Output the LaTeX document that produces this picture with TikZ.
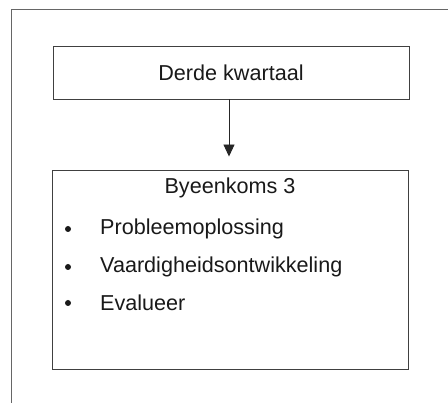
\documentclass[tikz,border=0pt]{standalone}
\usepackage{fontspec}
\setmainfont{Liberation Sans}
\usetikzlibrary{arrows.meta}
\begin{document}
\begin{tikzpicture}[x=1pt,y=-1pt,
  framestyle/.style={draw=black!60,line width=0.8pt},
  boxstyle/.style={draw=black!75,line width=0.9pt,rectangle,inner sep=0pt},
  labelstyle/.style={font=\fontsize{21.6}{26}\selectfont,inner sep=0pt,text=black!90},
  dotstyle/.style={circle,fill=black!90,inner sep=0pt,minimum size=6pt},
  flow/.style={draw=black!85,line width=0.9pt,-{Triangle[length=12pt,width=11pt]}}]
  \useasboundingbox (0,0) rectangle (448,403);
  % open frame: top and left edges only
  \coordinate (fr) at (448,9);
  \coordinate (fc) at (11,9);
  \coordinate (fb) at (11,403);
  \draw[framestyle] (fr) -- (fc) -- (fb);
  % quarter box
  \node[boxstyle,minimum width=356pt,minimum height=53pt] (top) at (231,72.5) {};
  \node[labelstyle] (toplabel) at (top.center) {Derde kwartaal};
  % session box
  \node[boxstyle,minimum width=356pt,minimum height=199pt] (bot) at (230,269.5) {};
  \node[labelstyle] (bottitle) at (230,188) {Byeenkoms 3};
  \node[labelstyle,anchor=west] (i1) at (100,229) {Probleemoplossing};
  \node[labelstyle,anchor=west] (i2) at (100,267) {Vaardigheidsontwikkeling};
  \node[labelstyle,anchor=west] (i3) at (100,303) {Evalueer};
  \node[dotstyle] (d1) at (68,229) {};
  \node[dotstyle] (d2) at (68,267) {};
  \node[dotstyle] (d3) at (68,303) {};
  % connector
  \draw[flow,shorten >=13pt] (top.south -| 229,0) -- (bot.north -| 229,0);
\end{tikzpicture}
\end{document}
